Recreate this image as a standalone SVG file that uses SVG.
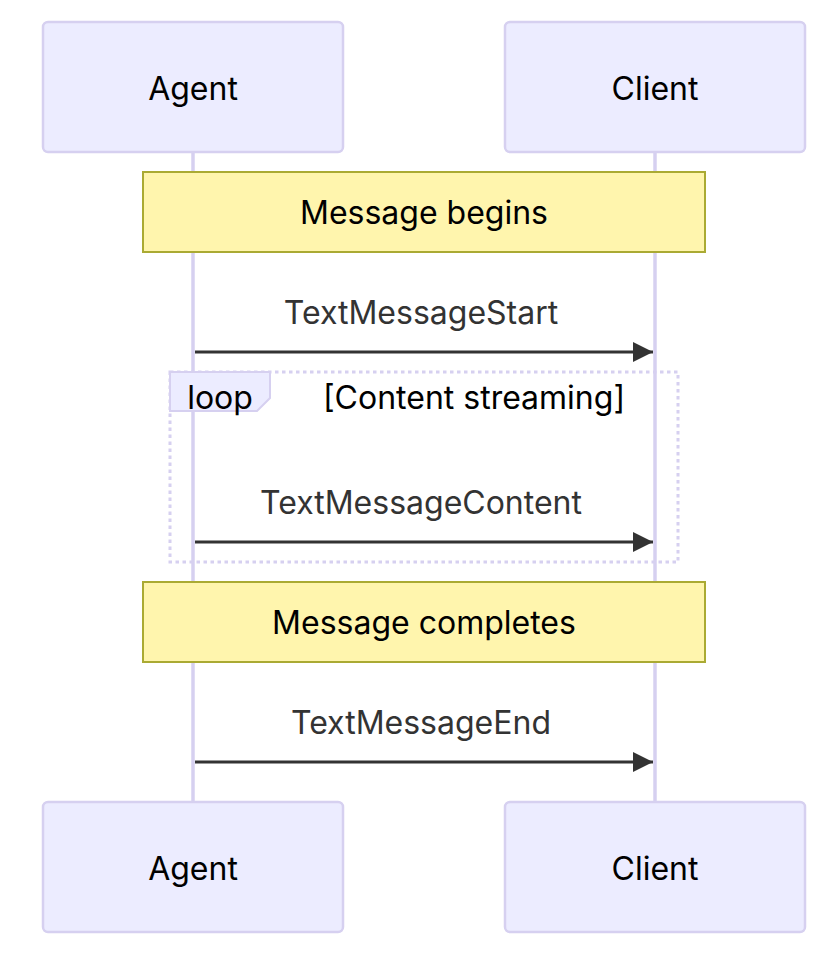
<svg xmlns="http://www.w3.org/2000/svg" width="838" height="954" viewBox="0 0 838 954">
<style>
.actor{fill:#ECECFF;stroke:#D6D0F0;stroke-width:2.5}
.atext{font-family:Inter,"Noto Sans",sans-serif;font-size:32px;fill:#000;text-anchor:middle;dominant-baseline:central}
.life{stroke:#D6D0F0;stroke-width:3.5}
.note{fill:#FFF5AD;stroke:#AAAA33;stroke-width:2}
.ntext{font-family:Inter,"Noto Sans",sans-serif;font-size:32px;fill:#000;text-anchor:middle;dominant-baseline:central}
.msg{stroke:#333;stroke-width:3;fill:none}
.mtext{font-family:Inter,"Noto Sans",sans-serif;font-size:32px;fill:#333;text-anchor:middle;dominant-baseline:central}
.loop{fill:none;stroke:#D6D0F0;stroke-width:3;stroke-dasharray:3.5 3.5}
.ltext{font-family:Inter,"Noto Sans",sans-serif;font-size:32px;fill:#000;dominant-baseline:central}
</style>
<defs>
<marker id="arrow" markerUnits="userSpaceOnUse" markerWidth="22" markerHeight="22" refX="20" refY="10" orient="auto">
<path d="M0,0 L20,10 L0,20 Z" fill="#333"/>
</marker>
</defs>
<g id="lifelines">
<line class="life" x1="193" y1="152" x2="193" y2="802"/>
<line class="life" x1="655" y1="152" x2="655" y2="802"/>
</g>
<g id="agent-top"><rect class="actor" x="43" y="22" width="300" height="130" rx="5"/><text class="atext" x="193" y="88">Agent</text></g>
<g id="client-top"><rect class="actor" x="505" y="22" width="300" height="130" rx="5"/><text class="atext" x="655" y="88">Client</text></g>
<g id="agent-bottom"><rect class="actor" x="43" y="802" width="300" height="130" rx="5"/><text class="atext" x="193" y="868">Agent</text></g>
<g id="client-bottom"><rect class="actor" x="505" y="802" width="300" height="130" rx="5"/><text class="atext" x="655" y="868">Client</text></g>
<g id="note-begins"><rect class="note" x="143" y="172" width="562" height="80"/><text class="ntext" x="424" y="212">Message begins</text></g>
<g id="loop">
<rect class="loop" x="170" y="372" width="508" height="190"/>
<path d="M170,372 L270,372 L270,398 L257,411 L170,411 Z" fill="#ECECFF" stroke="#D6D0F0" stroke-width="2"/>
<text class="ltext" x="220" y="397" text-anchor="middle">loop</text>
<text class="ltext" x="474" y="397" text-anchor="middle">[Content streaming]</text>
</g>
<g id="note-completes"><rect class="note" x="143" y="582" width="562" height="80"/><text class="ntext" x="424" y="622">Message completes</text></g>
<g id="connectors">
<line class="msg" x1="195" y1="352" x2="653" y2="352" marker-end="url(#arrow)"/>
<text class="mtext" x="421" y="312">TextMessageStart</text>
<line class="msg" x1="195" y1="542" x2="653" y2="542" marker-end="url(#arrow)"/>
<text class="mtext" x="421" y="502">TextMessageContent</text>
<line class="msg" x1="195" y1="762" x2="653" y2="762" marker-end="url(#arrow)"/>
<text class="mtext" x="421" y="722">TextMessageEnd</text>
</g>
</svg>
